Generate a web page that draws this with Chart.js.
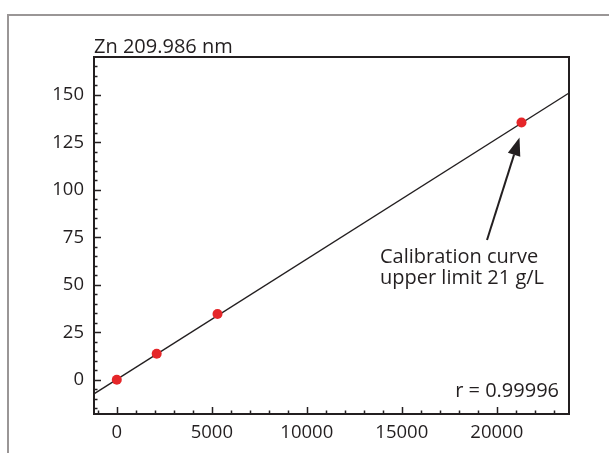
<!DOCTYPE html>
<html>
<head>
<meta charset="utf-8">
<script src="https://cdn.jsdelivr.net/npm/chart.js@4.4.0/dist/chart.umd.min.js"></script>
<style>
  html, body { margin: 0; padding: 0; background: #fff; }
  #wrap { width: 609px; height: 453px; position: relative; }
</style>
</head>
<body>
<div id="wrap"><canvas id="chart" width="609" height="453"></canvas></div>
<script>
// calibration standards (concentration vs intensity)
const xValues = [0, 2100, 5300, 21300];
const yValues = [0, 13.7, 34.7, 135.5];
// fitted calibration line end points
const fitX = [-1200, 23800];
const fitY = [-7.4, 151];
// axis ticks
const xTicks = [0, 5000, 10000, 15000, 20000];
const yTicks = [0, 25, 50, 75, 100, 125, 150];

const ink = '#231f20';
const font = "'Open Sans', 'Noto Sans', sans-serif";

// frame, inner ticks and annotations
const decorations = {
  id: 'decorations',
  afterDraw(chart) {
    const ctx = chart.ctx;
    const a = chart.chartArea;
    const xs = chart.scales.x;
    const ys = chart.scales.y;
    ctx.save();

    // outer grey frame
    ctx.strokeStyle = '#9a9696';
    ctx.lineWidth = 2;
    ctx.beginPath();
    ctx.moveTo(8, 453);
    ctx.lineTo(8, 15);
    ctx.lineTo(609, 15);
    ctx.stroke();

    // minor / major ticks pointing inward
    ctx.strokeStyle = ink;
    ctx.lineWidth = 1.5;
    ctx.beginPath();
    for (let v = -15; v <= 165; v += 5) {
      const y = Math.round(ys.getPixelForValue(v)) + 0.5;
      const len = v % 25 === 0 ? 7 : 3.5;
      ctx.moveTo(a.left, y);
      ctx.lineTo(a.left + len, y);
    }
    for (let v = -1000; v <= 23000; v += 1000) {
      const x = Math.round(xs.getPixelForValue(v)) + 0.5;
      const len = v % 5000 === 0 ? 7 : 3.5;
      ctx.moveTo(x, a.bottom);
      ctx.lineTo(x, a.bottom - len);
    }
    ctx.stroke();

    // plot frame
    ctx.lineWidth = 2;
    ctx.strokeRect(a.left, a.top, a.right - a.left, a.bottom - a.top);

    // title
    ctx.fillStyle = ink;
    ctx.font = '20px ' + font;
    ctx.textAlign = 'left';
    ctx.textBaseline = 'alphabetic';
    ctx.fillText('Zn 209.986 nm', a.left, a.top - 4);

    // annotation
    ctx.fillText('Calibration curve', 380, 263);
    ctx.fillText('upper limit 21 g/L', 380, 284);

    ctx.textAlign = 'right';
    ctx.fillText('r = 0.99996', a.right - 10, 397);

    // arrow to the top standard
    const px = xs.getPixelForValue(xValues[3]);
    const py = ys.getPixelForValue(yValues[3]);
    const tipX = px - 2, tipY = py + 15;
    const tailX = 487, tailY = 240;
    const ang = Math.atan2(tipY - tailY, tipX - tailX);
    const head = 18, half = 6.5;
    const bx = tipX - head * Math.cos(ang), by = tipY - head * Math.sin(ang);
    ctx.lineWidth = 2;
    ctx.beginPath();
    ctx.moveTo(tailX, tailY);
    ctx.lineTo(bx, by);
    ctx.stroke();
    ctx.beginPath();
    ctx.moveTo(tipX, tipY);
    ctx.lineTo(bx + half * Math.sin(ang), by - half * Math.cos(ang));
    ctx.lineTo(bx - half * Math.sin(ang), by + half * Math.cos(ang));
    ctx.closePath();
    ctx.fill();

    ctx.restore();
  }
};

const fitLine = fitX.map((x, i) => ({ x: x, y: fitY[i] }));
const points = xValues.map((x, i) => ({ x: x, y: yValues[i] }));

new Chart(document.getElementById('chart'), {
  type: 'scatter',
  data: {
    datasets: [
      {
        data: points,
        backgroundColor: '#e52629',
        borderWidth: 0,
        pointRadius: 5,
        order: 0
      },
      {
        data: fitLine,
        showLine: true,
        borderColor: ink,
        borderWidth: 1.3,
        pointRadius: 0,
        order: 1
      }
    ]
  },
  options: {
    responsive: false,
    animation: false,
    layout: { padding: { top: 57, right: 40, left: 0, bottom: 0 } },
    plugins: {
      legend: { display: false },
      tooltip: { enabled: false }
    },
    scales: {
      x: {
        type: 'linear',
        min: -1200,
        max: 23800,
        afterBuildTicks: s => { s.ticks = xTicks.map(v => ({ value: v })); },
        afterFit: s => { s.height = 39; },
        grid: { display: false, drawTicks: false },
        border: { display: false },
        ticks: {
          color: ink,
          font: { family: font, size: 18.5 },
          padding: 8,
          maxRotation: 0,
          callback: v => String(v)
        }
      },
      y: {
        type: 'linear',
        min: -18,
        max: 170,
        afterBuildTicks: s => { s.ticks = yTicks.map(v => ({ value: v })); },
        afterFit: s => { s.width = 94; },
        grid: { display: false, drawTicks: false },
        border: { display: false },
        ticks: {
          color: ink,
          font: { family: font, size: 18.5 },
          padding: 10,
          callback: v => String(v)
        }
      }
    }
  },
  plugins: [decorations]
});
</script>
</body>
</html>
